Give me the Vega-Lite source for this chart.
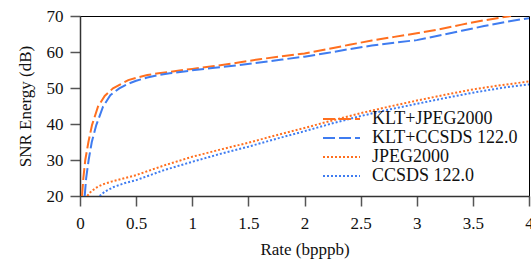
{
  "$schema": "https://vega.github.io/schema/vega-lite/v6.json",
  "autosize": {"type": "none"},
  "width": 449,
  "height": 180,
  "padding": {"left": 80, "top": 16, "right": 2, "bottom": 65},
  "config": {
    "view": {"stroke": "black", "strokeWidth": 1},
    "font": "Times New Roman"
  },
  "data": {
    "values": [
      {"s": "KLT+JPEG2000", "x": 0.018, "y": 20}, {"s": "KLT+JPEG2000", "x": 0.03, "y": 25}, {"s": "KLT+JPEG2000", "x": 0.047, "y": 30}, {"s": "KLT+JPEG2000", "x": 0.075, "y": 35}, {"s": "KLT+JPEG2000", "x": 0.107, "y": 39.7}, {"s": "KLT+JPEG2000", "x": 0.16, "y": 44.8}, {"s": "KLT+JPEG2000", "x": 0.22, "y": 47.8}, {"s": "KLT+JPEG2000", "x": 0.294, "y": 49.9}, {"s": "KLT+JPEG2000", "x": 0.36, "y": 51.0}, {"s": "KLT+JPEG2000", "x": 0.43, "y": 52.2}, {"s": "KLT+JPEG2000", "x": 0.5, "y": 52.8}, {"s": "KLT+JPEG2000", "x": 0.6, "y": 53.6}, {"s": "KLT+JPEG2000", "x": 0.7, "y": 54.1}, {"s": "KLT+JPEG2000", "x": 0.8, "y": 54.5}, {"s": "KLT+JPEG2000", "x": 1.0, "y": 55.3}, {"s": "KLT+JPEG2000", "x": 1.2, "y": 56.1}, {"s": "KLT+JPEG2000", "x": 1.4, "y": 57.0}, {"s": "KLT+JPEG2000", "x": 1.6, "y": 58.0}, {"s": "KLT+JPEG2000", "x": 1.8, "y": 58.8}, {"s": "KLT+JPEG2000", "x": 2.0, "y": 59.6}, {"s": "KLT+JPEG2000", "x": 2.2, "y": 60.8}, {"s": "KLT+JPEG2000", "x": 2.4, "y": 62.0}, {"s": "KLT+JPEG2000", "x": 2.6, "y": 63.2}, {"s": "KLT+JPEG2000", "x": 2.8, "y": 64.2}, {"s": "KLT+JPEG2000", "x": 3.0, "y": 65.2}, {"s": "KLT+JPEG2000", "x": 3.2, "y": 66.3}, {"s": "KLT+JPEG2000", "x": 3.4, "y": 67.6}, {"s": "KLT+JPEG2000", "x": 3.6, "y": 68.8}, {"s": "KLT+JPEG2000", "x": 3.84, "y": 70},
      {"s": "KLT+CCSDS 122.0", "x": 0.042, "y": 20}, {"s": "KLT+CCSDS 122.0", "x": 0.055, "y": 25}, {"s": "KLT+CCSDS 122.0", "x": 0.077, "y": 30}, {"s": "KLT+CCSDS 122.0", "x": 0.105, "y": 35}, {"s": "KLT+CCSDS 122.0", "x": 0.145, "y": 39.7}, {"s": "KLT+CCSDS 122.0", "x": 0.205, "y": 44.8}, {"s": "KLT+CCSDS 122.0", "x": 0.27, "y": 48.0}, {"s": "KLT+CCSDS 122.0", "x": 0.35, "y": 49.9}, {"s": "KLT+CCSDS 122.0", "x": 0.43, "y": 51.2}, {"s": "KLT+CCSDS 122.0", "x": 0.5, "y": 52.0}, {"s": "KLT+CCSDS 122.0", "x": 0.6, "y": 52.9}, {"s": "KLT+CCSDS 122.0", "x": 0.7, "y": 53.6}, {"s": "KLT+CCSDS 122.0", "x": 0.8, "y": 54.1}, {"s": "KLT+CCSDS 122.0", "x": 1.0, "y": 54.9}, {"s": "KLT+CCSDS 122.0", "x": 1.2, "y": 55.6}, {"s": "KLT+CCSDS 122.0", "x": 1.4, "y": 56.3}, {"s": "KLT+CCSDS 122.0", "x": 1.6, "y": 57.1}, {"s": "KLT+CCSDS 122.0", "x": 1.8, "y": 57.9}, {"s": "KLT+CCSDS 122.0", "x": 2.0, "y": 58.7}, {"s": "KLT+CCSDS 122.0", "x": 2.2, "y": 59.7}, {"s": "KLT+CCSDS 122.0", "x": 2.4, "y": 60.8}, {"s": "KLT+CCSDS 122.0", "x": 2.6, "y": 61.8}, {"s": "KLT+CCSDS 122.0", "x": 2.8, "y": 62.6}, {"s": "KLT+CCSDS 122.0", "x": 3.0, "y": 63.3}, {"s": "KLT+CCSDS 122.0", "x": 3.2, "y": 64.6}, {"s": "KLT+CCSDS 122.0", "x": 3.4, "y": 65.9}, {"s": "KLT+CCSDS 122.0", "x": 3.6, "y": 67.2}, {"s": "KLT+CCSDS 122.0", "x": 3.8, "y": 68.4}, {"s": "KLT+CCSDS 122.0", "x": 4.0, "y": 69.4},
      {"s": "JPEG2000", "x": 0.065, "y": 20}, {"s": "JPEG2000", "x": 0.1, "y": 21.3}, {"s": "JPEG2000", "x": 0.15, "y": 22.4}, {"s": "JPEG2000", "x": 0.2, "y": 23.2}, {"s": "JPEG2000", "x": 0.28, "y": 24.0}, {"s": "JPEG2000", "x": 0.4, "y": 25.0}, {"s": "JPEG2000", "x": 0.5, "y": 25.8}, {"s": "JPEG2000", "x": 0.75, "y": 28.5}, {"s": "JPEG2000", "x": 1.0, "y": 30.9}, {"s": "JPEG2000", "x": 1.25, "y": 32.9}, {"s": "JPEG2000", "x": 1.5, "y": 34.8}, {"s": "JPEG2000", "x": 1.75, "y": 36.9}, {"s": "JPEG2000", "x": 2.0, "y": 38.9}, {"s": "JPEG2000", "x": 2.25, "y": 41.0}, {"s": "JPEG2000", "x": 2.5, "y": 43.0}, {"s": "JPEG2000", "x": 2.75, "y": 44.8}, {"s": "JPEG2000", "x": 3.0, "y": 46.5}, {"s": "JPEG2000", "x": 3.25, "y": 48.1}, {"s": "JPEG2000", "x": 3.5, "y": 49.6}, {"s": "JPEG2000", "x": 3.75, "y": 50.8}, {"s": "JPEG2000", "x": 4.0, "y": 51.8},
      {"s": "CCSDS 122.0", "x": 0.175, "y": 20}, {"s": "CCSDS 122.0", "x": 0.22, "y": 21.2}, {"s": "CCSDS 122.0", "x": 0.3, "y": 22.5}, {"s": "CCSDS 122.0", "x": 0.4, "y": 23.6}, {"s": "CCSDS 122.0", "x": 0.5, "y": 24.4}, {"s": "CCSDS 122.0", "x": 0.75, "y": 27.2}, {"s": "CCSDS 122.0", "x": 1.0, "y": 29.5}, {"s": "CCSDS 122.0", "x": 1.25, "y": 31.7}, {"s": "CCSDS 122.0", "x": 1.5, "y": 33.7}, {"s": "CCSDS 122.0", "x": 1.75, "y": 35.9}, {"s": "CCSDS 122.0", "x": 2.0, "y": 38.0}, {"s": "CCSDS 122.0", "x": 2.25, "y": 40.2}, {"s": "CCSDS 122.0", "x": 2.5, "y": 42.2}, {"s": "CCSDS 122.0", "x": 2.75, "y": 44.0}, {"s": "CCSDS 122.0", "x": 3.0, "y": 45.6}, {"s": "CCSDS 122.0", "x": 3.25, "y": 47.2}, {"s": "CCSDS 122.0", "x": 3.5, "y": 48.7}, {"s": "CCSDS 122.0", "x": 3.75, "y": 50.0}, {"s": "CCSDS 122.0", "x": 4.0, "y": 51.0}
    ]
  },
  "mark": {"type": "line", "strokeWidth": 2, "clip": true},
  "encoding": {
    "x": {
      "field": "x", "type": "quantitative", "title": "Rate (bpppb)",
      "scale": {"domain": [0, 4], "nice": false},
      "axis": {
        "values": [0, 0.5, 1, 1.5, 2, 2.5, 3, 3.5, 4], "format": "~g", "labelFlush": false,
        "labelFont": "Times New Roman", "titleFont": "Times New Roman",
        "labelFontSize": 17, "titleFontSize": 17, "titleFontWeight": "normal",
        "labelColor": "#111", "titleColor": "#111",
        "domainColor": "#333", "domainWidth": 1.5,
        "tickColor": "#555", "tickWidth": 1.5, "tickSize": 10,
        "grid": false, "labelPadding": 9, "titlePadding": 10
      }
    },
    "y": {
      "field": "y", "type": "quantitative", "title": "SNR Energy (dB)",
      "scale": {"domain": [20, 70], "nice": false},
      "axis": {
        "values": [20, 30, 40, 50, 60, 70],
        "labelFont": "Times New Roman", "titleFont": "Times New Roman",
        "labelFontSize": 17, "titleFontSize": 17, "titleFontWeight": "normal",
        "labelColor": "#111", "titleColor": "#111",
        "domainColor": "#333", "domainWidth": 1.5,
        "tickColor": "#555", "tickWidth": 1.5, "tickSize": 10,
        "grid": false, "labelPadding": 7, "titlePadding": 12
      }
    },
    "color": {
      "field": "s", "type": "nominal",
      "scale": {"domain": ["KLT+JPEG2000", "KLT+CCSDS 122.0", "JPEG2000", "CCSDS 122.0"], "range": ["#ff6f1f", "#3f7cf0", "#ff6f1f", "#3f7cf0"]},
      "legend": {"title": null, "orient": "bottom-right", "offset": 11, "symbolType": "M-1,0H6.4", "symbolSize": 100, "symbolStrokeWidth": 2, "symbolFillColor": "transparent", "rowPadding": 1, "labelOffset": 35, "labelFont": "Times New Roman", "labelFontSize": 18, "labelColor": "#111", "labelLimit": 300}
    },
    "strokeDash": {
      "field": "s", "type": "nominal",
      "scale": {"domain": ["KLT+JPEG2000", "KLT+CCSDS 122.0", "JPEG2000", "CCSDS 122.0"], "range": [[12, 4], [12, 4], [2, 2], [2, 2]]},
      "legend": {"title": null, "orient": "bottom-right", "offset": 11, "symbolType": "M-1,0H6.4", "symbolSize": 100, "symbolStrokeWidth": 2, "symbolFillColor": "transparent", "rowPadding": 1, "labelOffset": 35, "labelFont": "Times New Roman", "labelFontSize": 18, "labelColor": "#111", "labelLimit": 300}
    }
  }
}
